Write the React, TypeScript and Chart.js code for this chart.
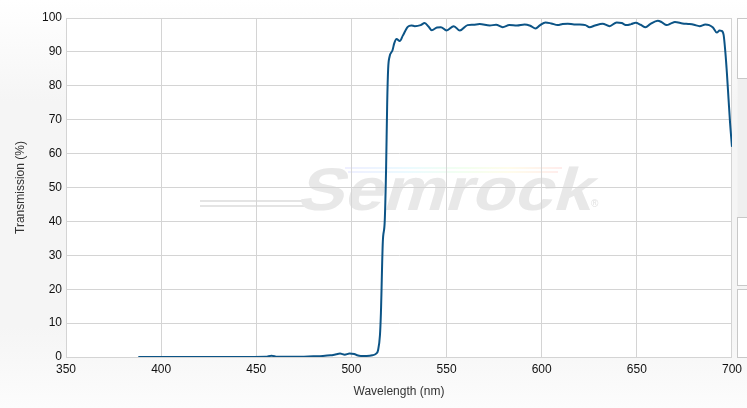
import React, { useEffect, useRef } from "react";
import { Chart, registerables } from "chart.js";

Chart.register(...registerables);

const wavelengths: number[] = [
  388, 400, 420, 440, 455, 458, 461, 470, 480, 485, 489, 492, 494, 496.5, 499, 501.5, 503, 505, 508, 511, 513, 514,
  515, 515.5, 516.5, 517.5, 518.2, 518.8, 519.3, 520, 521.6, 522.5, 523.7, 525.4, 527, 529.6, 531.5, 533.3, 536.4,
  538.5, 540.5, 542.2, 545, 547, 550, 553.8, 557, 561, 564, 567.4, 572.7, 576, 579.5, 583, 587, 591, 594, 596.8, 599,
  602, 605, 608.4, 611, 613.7, 617, 620, 623, 625.2, 628, 632, 635.7, 639.4, 642, 644.6, 647, 649.4, 652, 654.6, 657,
  661, 663, 665.7, 668, 670, 674, 677.7, 680, 683, 686, 688, 690, 692, 693.5, 694.5, 695.6, 696.5, 697.3, 698.2, 699,
  700,
];

const transmission: number[] = [
  0, 0, 0, 0, 0.05, 0.4, 0.05, 0.05, 0.2, 0.3, 0.5, 0.8, 1.0, 0.7, 1.0, 0.9, 0.5, 0.3, 0.3, 0.5, 1.0, 2.0,
  6.5, 13, 34, 40, 55, 75, 85, 88.5, 90.5, 92.5, 93.8, 93.2, 94.8, 97.4, 97.8, 97.6, 97.9,
  98.5, 97.5, 96.4, 97.2, 97.3, 96.3, 97.6, 96.3, 97.9, 98.0, 98.2, 97.8, 98.0, 97.3, 97.9, 97.8, 98.1, 97.7, 96.9, 97.8,
  98.7, 98.4, 97.9, 98.2, 98.3, 98.1, 98.1, 97.9, 97.3, 97.8, 98.3, 97.6, 98.7, 98.5, 97.9, 98.2, 98.6, 98.0, 97.3, 98.2,
  99.2, 98.8, 97.9, 98.4, 98.8, 98.4, 98.2, 98.0, 97.6, 98.1, 97.9, 97.2, 95.7, 96.3, 96.2, 95.0, 90, 84, 76, 69,
  62,
];

const xTicks: number[] = [350, 400, 450, 500, 550, 600, 650, 700];
const yTicks: number[] = [0, 10, 20, 30, 40, 50, 60, 70, 80, 90, 100];

const xTitle = "Wavelength (nm)";
const yTitle = "Transmission (%)";
const watermarkText = "Semrock";

const backgroundPlugin = {
  id: "bgPlugin",
  beforeDraw(chart: any) {
    const { ctx, width, height, chartArea } = chart;
    ctx.save();
    const g = ctx.createLinearGradient(0, 0, 0, height);
    g.addColorStop(0, "#ffffff");
    g.addColorStop(0.25, "#f5f5f5");
    g.addColorStop(0.8, "#f5f5f5");
    g.addColorStop(1, "#fcfcfc");
    ctx.fillStyle = g;
    ctx.fillRect(0, 0, width, height);

    // right-side panels
    const px = 737.5;
    ctx.fillStyle = "#efefef";
    ctx.fillRect(px, 78, width - px, 139);
    const boxes = [
      [18, 78],
      [217, 285],
      [289, 357],
    ];
    for (const [t, b] of boxes) {
      ctx.fillStyle = "#ffffff";
      ctx.fillRect(px, t, width - px + 2, b - t);
      ctx.strokeStyle = "#c8c8c8";
      ctx.lineWidth = 1;
      ctx.strokeRect(px, t + 0.5, width - px + 5, b - t);
    }

    // plot area
    ctx.fillStyle = "#ffffff";
    ctx.fillRect(chartArea.left, chartArea.top, chartArea.right - chartArea.left, chartArea.bottom - chartArea.top);

    // watermark
    ctx.strokeStyle = "#e4e4e4";
    ctx.lineWidth = 2;
    ctx.beginPath();
    ctx.moveTo(200, 201);
    ctx.lineTo(308, 201);
    ctx.moveTo(200, 206);
    ctx.lineTo(306, 206);
    ctx.stroke();

    const rg = ctx.createLinearGradient(340, 0, 565, 0);
    rg.addColorStop(0, "rgba(170,170,255,0.25)");
    rg.addColorStop(0.3, "rgba(170,235,255,0.3)");
    rg.addColorStop(0.55, "rgba(200,255,190,0.3)");
    rg.addColorStop(0.75, "rgba(255,245,170,0.3)");
    rg.addColorStop(1, "rgba(255,170,170,0.3)");
    ctx.strokeStyle = rg;
    ctx.lineWidth = 1.5;
    ctx.beginPath();
    ctx.moveTo(345, 168);
    ctx.lineTo(562, 168);
    ctx.moveTo(348, 172);
    ctx.lineTo(558, 172);
    ctx.stroke();

    ctx.save();
    ctx.translate(296, 210);
    ctx.transform(1.16, 0, -0.3, 1, 0, 0);
    ctx.font = "bold 60px 'Liberation Sans', Arial, sans-serif";
    ctx.textBaseline = "alphabetic";
    ctx.textAlign = "left";
    ctx.fillStyle = "#e8e8e8";
    ctx.fillText(watermarkText, 0, 0);
    ctx.restore();

    ctx.font = "10px 'Liberation Sans', Arial, sans-serif";
    ctx.fillStyle = "#e2e2e2";
    ctx.textAlign = "left";
    ctx.textBaseline = "middle";
    ctx.fillText("®", 591, 204);
    ctx.restore();
  },
};

export default function App() {
  const canvasRef = useRef<HTMLCanvasElement | null>(null);

  useEffect(() => {
    if (!canvasRef.current) return;
    const data = wavelengths.map((w, i) => ({ x: w, y: transmission[i] }));
    const font = { family: "'Liberation Sans', Arial, sans-serif", size: 12 };
    const chart = new Chart(canvasRef.current, {
      type: "line",
      data: {
        datasets: [
          {
            data,
            borderColor: "#0c5486",
            borderWidth: 2,
            pointRadius: 0,
            cubicInterpolationMode: "monotone",
            fill: false,
          },
        ],
      },
      options: {
        responsive: false,
        animation: false,
        layout: { padding: { top: 18, right: 15, left: 0, bottom: 0 } },
        plugins: { legend: { display: false }, tooltip: { enabled: false } },
        scales: {
          x: {
            type: "linear",
            min: 350,
            max: 700,
            afterBuildTicks: (scale: any) => {
              scale.ticks = xTicks.map((v) => ({ value: v }));
            },
            afterFit: (scale: any) => {
              scale.height = 51;
            },
            ticks: { color: "#111111", font, padding: 5, maxRotation: 0, autoSkip: false },
            grid: { color: "#d4d4d4", drawTicks: false, lineWidth: 1 },
            border: { color: "#d4d4d4" },
            title: { display: true, text: xTitle, color: "#333333", font, padding: { top: 0, bottom: 9 } },
          },
          y: {
            min: 0,
            max: 100,
            afterBuildTicks: (scale: any) => {
              scale.ticks = yTicks.map((v) => ({ value: v }));
            },
            afterFit: (scale: any) => {
              scale.width = 66;
            },
            ticks: { color: "#111111", font, padding: 4, autoSkip: false },
            grid: { color: "#d4d4d4", drawTicks: false, lineWidth: 1 },
            border: { color: "#d4d4d4" },
            title: { display: true, text: yTitle, color: "#333333", font, padding: { top: 13, bottom: 0 } },
          },
        },
      },
      plugins: [backgroundPlugin],
    } as any);
    return () => chart.destroy();
  }, []);

  return (
    <div style={{ position: "absolute", left: 0, top: 0, width: 747, height: 408 }}>
      <canvas ref={canvasRef} width={747} height={408} />
    </div>
  );
}
